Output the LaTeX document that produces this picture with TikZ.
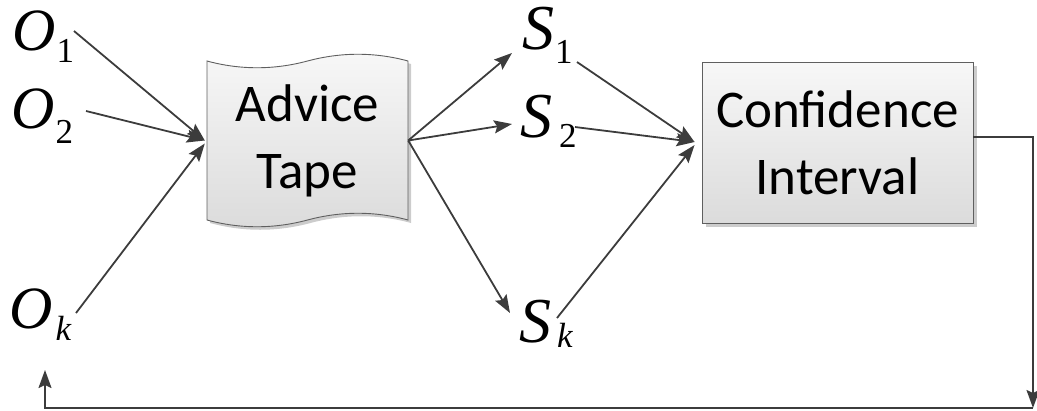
\documentclass[tikz,border=0pt]{standalone}
\usepackage{fontspec}
\setmainfont{Liberation Serif}
\newfontfamily\boxfont{Carlito}
\usetikzlibrary{arrows.meta,shadows}
\definecolor{ln}{HTML}{3C3C3C}
\definecolor{bd}{HTML}{5F5F5F}
\newcommand\Ofont{\rmfamily\itshape\fontsize{60}{60}\selectfont}
\newcommand\Sfont{\rmfamily\itshape\fontsize{64}{64}\selectfont}
\newcommand\subf{\rmfamily\upshape\fontsize{35}{35}\selectfont}
\newcommand\tapeshape[1]{\path[#1] (207,61) .. controls (240,70) and (274,70) .. (307.5,61) .. controls (341,52) and (375,52) .. (408,61) -- (408,220) .. controls (375,211) and (341,211) .. (307.5,220) .. controls (274,229) and (240,229) .. (207,220) -- cycle;}
\begin{document}
\begin{tikzpicture}[x=1pt,y=-1pt,
  arr/.style={draw=ln, line width=1.8pt, -{Stealth[length=18pt,width=13pt,inset=3pt]}},
  var/.style={anchor=base west, inner sep=0pt},
  boxtext/.style={inner sep=0pt, align=center, font=\boxfont\fontsize{53}{67}\selectfont}]
\useasboundingbox (0,0) rectangle (1037,410);
% Advice tape
\tapeshape{fill=gray!40, shift={(3,3)}}
\tapeshape{draw=bd, line width=0.9pt, top color=white!97!black, bottom color=white!86!black}
\node[boxtext, minimum width=201pt, minimum height=159pt] (tape) at (307.5,140.5) {Advice\\Tape};
% Confidence interval
\node[boxtext, draw=bd, line width=0.9pt, top color=white!97!black, bottom color=white!86!black,
  minimum width=271pt, minimum height=161pt,
  drop shadow={shadow xshift=3.5pt, shadow yshift=-3.5pt, fill=gray!40, opacity=1}] (ci) at (837.5,142.5) {Confidence\\Interval};
% variables
\node[var] (o1) at (12,50) {\Ofont O\hspace{1pt}\raisebox{-12pt}{\subf 1}};
\node[var] (o2) at (11,128) {\Ofont O\hspace{1pt}\raisebox{-15pt}{\subf 2}};
\node[var] (ok) at (9,328) {\Ofont O\hspace{3pt}\raisebox{-12pt}{\subf\itshape k}};
\node[var] (s1) at (522,49) {\Sfont S\hspace{1pt}\raisebox{-14pt}{\subf 1}};
\node[var] (s2) at (520,137) {\Sfont S\hspace{7pt}\raisebox{-10pt}{\subf 2}};
\node[var] (sk) at (519,342) {\Sfont S\hspace{6pt}\raisebox{-5pt}{\subf\itshape k}};
% connector end points
\coordinate (o1s) at (74,31);
\coordinate (o2s) at (86,111);
\coordinate (oks) at (76,313);
\coordinate (s1in) at (512,53);
\coordinate (s2in) at (512,124);
\coordinate (skin) at (510,313);
\coordinate (s1s) at (577,62);
\coordinate (s2s) at (575,127);
\coordinate (sks) at (557,318);
\coordinate (tapein) at ([xshift=-2pt]tape.west);
\coordinate (ciin) at ([xshift=-7pt,yshift=0.5pt]ci.west);
\coordinate (fbc) at (1033,408);
\coordinate (okin) at (45,370);
% connectors
\draw[arr] (o1s) -- (tapein);
\draw[arr] (o2s) -- (tapein);
\draw[arr] (oks) -- ([yshift=-3pt]tapein);
\draw[arr] (tape.east) -- (s1in);
\draw[arr] (tape.east) -- (s2in);
\draw[arr] (tape.east) -- (skin);
\draw[arr] (s1s) -- (ciin);
\draw[arr] (s2s) -- (ciin);
\draw[arr] (sks) -- ([yshift=-3pt]ciin);
\draw[arr] ([yshift=5.5pt]ci.east) -| (fbc);
\draw[arr] (fbc) -| (okin);
\end{tikzpicture}
\end{document}
